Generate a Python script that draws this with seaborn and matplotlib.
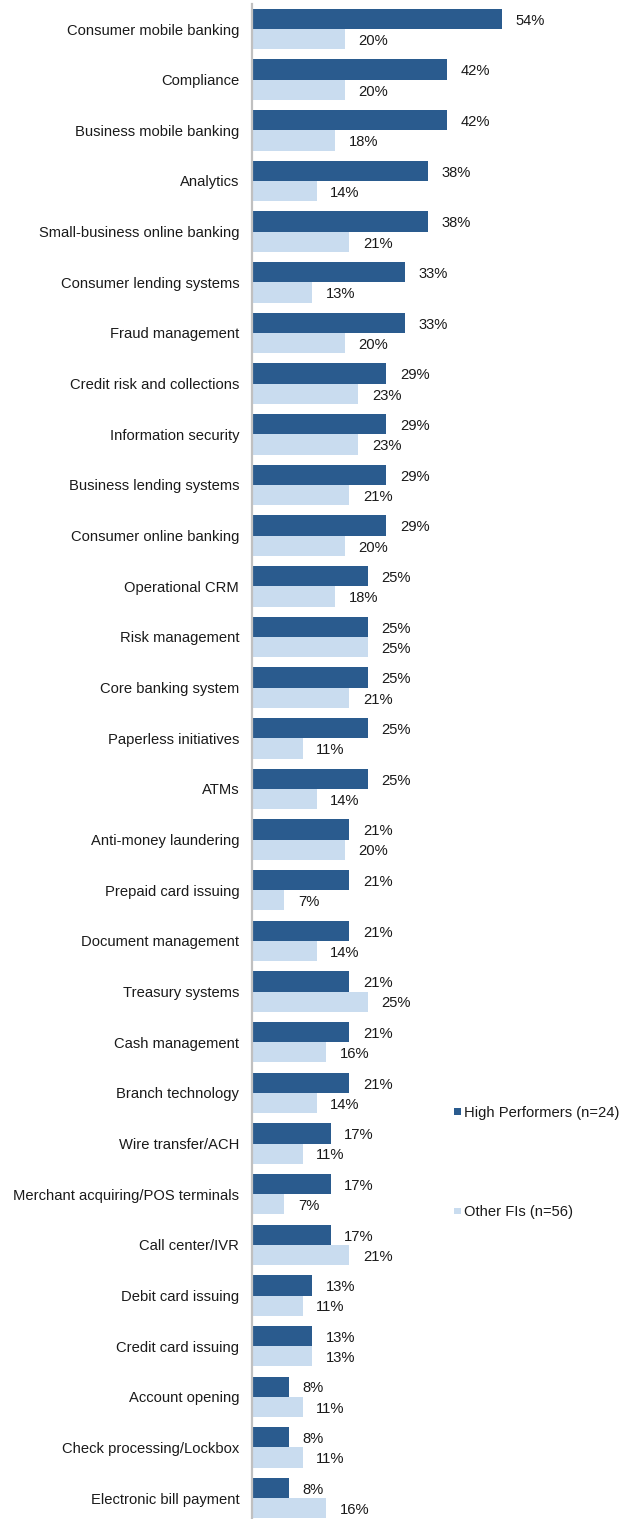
import matplotlib
matplotlib.use("Agg")
import matplotlib.pyplot as plt
import seaborn as sns
import pandas as pd

categories = [
    "Consumer mobile banking", "Compliance", "Business mobile banking", "Analytics",
    "Small-business online banking", "Consumer lending systems", "Fraud management",
    "Credit risk and collections", "Information security", "Business lending systems",
    "Consumer online banking", "Operational CRM", "Risk management", "Core banking system",
    "Paperless initiatives", "ATMs", "Anti-money laundering", "Prepaid card issuing",
    "Document management", "Treasury systems", "Cash management", "Branch technology",
    "Wire transfer/ACH", "Merchant acquiring/POS terminals", "Call center/IVR",
    "Debit card issuing", "Credit card issuing", "Account opening",
    "Check processing/Lockbox", "Electronic bill payment",
]
high_performers = [54, 42, 42, 38, 38, 33, 33, 29, 29, 29, 29, 25, 25, 25, 25, 25,
                   21, 21, 21, 21, 21, 21, 17, 17, 17, 13, 13, 8, 8, 8]
other_fis = [20, 20, 18, 14, 21, 13, 20, 23, 23, 21, 20, 18, 25, 21, 11, 14,
             20, 7, 14, 25, 16, 14, 11, 7, 21, 11, 13, 11, 11, 16]
series_names = ["High Performers (n=24)", "Other FIs (n=56)"]

df = pd.DataFrame({
    "category": categories * 2,
    "value": high_performers + other_fis,
    "group": [series_names[0]] * len(categories) + [series_names[1]] * len(categories),
})

sns.set_theme(style="white")
plt.rcParams["font.family"] = ["Liberation Sans", "DejaVu Sans"]
plt.rcParams["text.color"] = "#1a1a1a"

W, H = 620, 1519
fig = plt.figure(figsize=(W / 100, H / 100), dpi=100)
px_per_unit = 4.64
ax_left = 251.7
ax_width = W - ax_left
cat_step = 50.66
top_px = 29 - cat_step / 2
bottom_px = top_px + cat_step * len(categories)
ax = fig.add_axes([ax_left / W, 1 - bottom_px / H, ax_width / W, (bottom_px - top_px) / H])

palette = {series_names[0]: "#2a5b8e", series_names[1]: "#c9dcef"}
sns.barplot(data=df, y="category", x="value", hue="group", orient="h",
            palette=palette, width=0.8, saturation=1, linewidth=0, ax=ax, legend=True)

ax.set_xlim(0, ax_width / px_per_unit)
ax.set_ylim(len(categories) - 0.5, -0.5)

# value labels, nudged slightly below each bar's centre line
for container, vals in zip(ax.containers, [high_performers, other_fis]):
    anns = ax.bar_label(container, labels=[f"{v}%" for v in vals], padding=9.8,
                        fontsize=10.6, color="#1a1a1a")
    for ann in anns:
        ann.xyann = (9.8, -1.3)

for side in ["top", "right", "bottom"]:
    ax.spines[side].set_visible(False)
ax.spines["left"].set_color("#c0c0c0")
ax.spines["left"].set_linewidth(1.6)
ax.xaxis.set_visible(False)
ax.set_ylabel("")
ax.tick_params(axis="y", length=0, pad=9, labelsize=10.6, labelcolor="#1a1a1a")

handles, labels = ax.get_legend_handles_labels()
ax.legend(handles, labels, loc="upper left",
          bbox_to_anchor=(454 / W, 1 - 1106 / H), bbox_transform=fig.transFigure,
          frameon=False, fontsize=10.6, handlelength=0.45, handleheight=0.3,
          handletextpad=0.25, labelspacing=5.78, borderpad=0, borderaxespad=0)

fig.savefig("out.png", dpi=100)
